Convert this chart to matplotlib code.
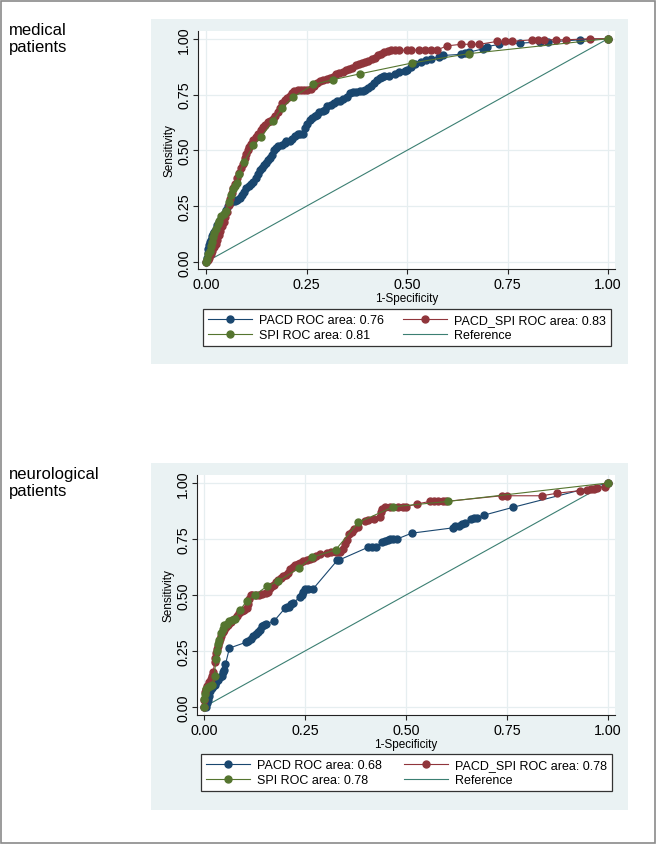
import matplotlib
matplotlib.use("Agg")
import matplotlib.pyplot as plt
from matplotlib.lines import Line2D
from matplotlib.patches import Rectangle

plt.rcParams["font.family"] = ["Liberation Sans", "DejaVu Sans"]

W, H = 657, 845

# ---- data: medical patients ----
med_pacd_fpr = [0, 0.002, 0.004, 0.006, 0.008, 0.01, 0.012, 0.015, 0.018, 0.02, 0.024, 0.028, 0.032,
                0.036, 0.04, 0.045, 0.05, 0.055, 0.06, 0.066, 0.072, 0.078, 0.084, 0.09, 0.095, 0.1,
                0.106, 0.112, 0.118, 0.124, 0.13, 0.135, 0.14, 0.145, 0.15, 0.155, 0.16, 0.165, 0.17,
                0.175, 0.18, 0.19, 0.196, 0.2, 0.208, 0.215, 0.222, 0.228, 0.235, 0.242, 0.247, 0.252,
                0.258, 0.264, 0.27, 0.276, 0.282, 0.29, 0.296, 0.302, 0.31, 0.318, 0.326, 0.334, 0.342,
                0.35, 0.358, 0.366, 0.374, 0.382, 0.39, 0.396, 0.402, 0.41, 0.418, 0.425, 0.432, 0.437,
                0.442, 0.455, 0.47, 0.48, 0.494, 0.5, 0.51, 0.52, 0.535, 0.548, 0.56, 0.58, 0.59, 0.635,
                0.645, 0.655, 0.69, 0.7, 0.73, 0.78, 0.83, 0.85, 0.93, 1.0]
med_pacd_tpr = [0, 0.02, 0.04, 0.06, 0.075, 0.09, 0.1, 0.115, 0.125, 0.135, 0.15, 0.165, 0.18,
                0.19, 0.2, 0.215, 0.235, 0.25, 0.265, 0.272, 0.275, 0.277, 0.285, 0.3, 0.315, 0.33,
                0.34, 0.35, 0.36, 0.375, 0.395, 0.41, 0.42, 0.435, 0.445, 0.455, 0.465, 0.48, 0.5,
                0.51, 0.52, 0.525, 0.535, 0.54, 0.54, 0.55, 0.565, 0.575, 0.575, 0.575, 0.6, 0.62,
                0.635, 0.645, 0.655, 0.66, 0.67, 0.675, 0.68, 0.7, 0.705, 0.71, 0.72, 0.72, 0.73,
                0.74, 0.755, 0.76, 0.76, 0.765, 0.765, 0.77, 0.78, 0.79, 0.8, 0.815, 0.825, 0.83,
                0.835, 0.835, 0.84, 0.85, 0.855, 0.86, 0.875, 0.885, 0.895, 0.905, 0.91, 0.92, 0.925, 0.93,
                0.935, 0.94, 0.955, 0.965, 0.975, 0.98, 0.985, 0.985, 0.995, 1.0]

med_combo_fpr = [0, 0.004, 0.008, 0.012, 0.016, 0.02, 0.024, 0.028, 0.032, 0.036, 0.04, 0.044, 0.048,
                 0.052, 0.056, 0.06, 0.064, 0.068, 0.072, 0.077, 0.082, 0.087, 0.092, 0.097, 0.1, 0.104,
                 0.108, 0.112, 0.118, 0.124, 0.13, 0.136, 0.142, 0.148, 0.154, 0.16, 0.166, 0.172, 0.178,
                 0.184, 0.19, 0.196, 0.202, 0.208, 0.214, 0.22, 0.228, 0.236, 0.244, 0.252, 0.26, 0.268,
                 0.276, 0.284, 0.292, 0.3, 0.308, 0.316, 0.324, 0.332, 0.34, 0.348, 0.356, 0.364, 0.372,
                 0.38, 0.388, 0.396, 0.404, 0.412, 0.42, 0.428, 0.436, 0.444, 0.452, 0.46, 0.47, 0.48,
                 0.5, 0.51, 0.53, 0.545, 0.56, 0.575, 0.6, 0.635, 0.66, 0.68, 0.725, 0.745, 0.76, 0.81,
                 0.825, 0.84, 0.87, 0.895, 0.955, 1.0]
med_combo_tpr = [0, 0.01, 0.02, 0.035, 0.05, 0.065, 0.08, 0.1, 0.12, 0.14, 0.16, 0.18, 0.2,
                 0.225, 0.255, 0.28, 0.31, 0.33, 0.35, 0.375, 0.4, 0.42, 0.44, 0.465, 0.485, 0.5,
                 0.515, 0.53, 0.545, 0.56, 0.575, 0.59, 0.605, 0.615, 0.625, 0.63, 0.64, 0.655, 0.67,
                 0.69, 0.71, 0.725, 0.735, 0.745, 0.755, 0.765, 0.77, 0.77, 0.77, 0.77, 0.775, 0.79,
                 0.8, 0.81, 0.815, 0.82, 0.825, 0.83, 0.84, 0.845, 0.85, 0.86, 0.865, 0.87, 0.88,
                 0.885, 0.89, 0.895, 0.9, 0.91, 0.915, 0.925, 0.93, 0.94, 0.945, 0.948, 0.948, 0.948,
                 0.948, 0.948, 0.95, 0.95, 0.95, 0.95, 0.968, 0.975, 0.975, 0.975, 0.988, 0.988, 0.988, 0.995,
                 0.995, 0.995, 0.995, 0.995, 1.0, 1.0]

med_spi_fpr = [0, 0.003, 0.006, 0.009, 0.012, 0.015, 0.018, 0.021, 0.025, 0.029, 0.033, 0.038,
               0.044, 0.05, 0.057, 0.062, 0.067, 0.072, 0.077, 0.082, 0.095, 0.118, 0.137, 0.166,
               0.189, 0.217, 0.267, 0.315, 0.384, 0.512, 0.654, 1.0]
med_spi_tpr = [0, 0.015, 0.035, 0.05, 0.07, 0.09, 0.11, 0.13, 0.15, 0.17, 0.185, 0.205,
               0.215, 0.23, 0.27, 0.3, 0.325, 0.34, 0.355, 0.395, 0.45, 0.522, 0.559, 0.63,
               0.69, 0.738, 0.795, 0.816, 0.843, 0.891, 0.933, 1.0]

# ---- data: neurological patients ----
neu_pacd_fpr = [0, 0.005, 0.008, 0.01, 0.013, 0.016, 0.019, 0.022, 0.026, 0.03, 0.035, 0.04, 0.044,
                0.047, 0.05, 0.053, 0.063, 0.104, 0.11, 0.116, 0.122, 0.128, 0.133, 0.138, 0.143,
                0.148, 0.153, 0.174, 0.2, 0.205, 0.21, 0.215, 0.22, 0.238, 0.242, 0.246, 0.25, 0.258,
                0.27, 0.33, 0.333, 0.406, 0.415, 0.425, 0.44, 0.448, 0.455, 0.46, 0.468, 0.478, 0.514,
                0.617, 0.622, 0.63, 0.638, 0.645, 0.66, 0.668, 0.676, 0.692, 0.766, 1.0]
neu_pacd_tpr = [0, 0.0, 0.02, 0.03, 0.05, 0.07, 0.085, 0.095, 0.1, 0.11, 0.12, 0.132, 0.14,
                0.155, 0.165, 0.19, 0.263, 0.289, 0.295, 0.304, 0.315, 0.325, 0.333, 0.345, 0.36,
                0.365, 0.37, 0.385, 0.44, 0.445, 0.445, 0.46, 0.465, 0.49, 0.5, 0.515, 0.525, 0.525,
                0.527, 0.655, 0.655, 0.713, 0.713, 0.713, 0.735, 0.74, 0.745, 0.75, 0.75, 0.75, 0.776,
                0.8, 0.81, 0.81, 0.815, 0.822, 0.84, 0.845, 0.845, 0.856, 0.892, 1.0]

neu_combo_fpr = [0, 0.0, 0.002, 0.005, 0.008, 0.012, 0.017, 0.02, 0.023, 0.026, 0.028, 0.03, 0.032,
                 0.034, 0.037, 0.04, 0.042, 0.046, 0.05, 0.055, 0.06, 0.063, 0.068, 0.075, 0.081,
                 0.087, 0.094, 0.1, 0.106, 0.11, 0.112, 0.116, 0.12, 0.128, 0.136, 0.144, 0.153,
                 0.158, 0.163, 0.168, 0.173, 0.178, 0.184, 0.19, 0.196, 0.202, 0.208, 0.214, 0.22,
                 0.226, 0.232, 0.238, 0.246, 0.254, 0.262, 0.27, 0.277, 0.287, 0.304, 0.315, 0.326,
                 0.337, 0.345, 0.35, 0.353, 0.358, 0.366, 0.372, 0.38, 0.398, 0.407, 0.42, 0.436,
                 0.438, 0.44, 0.448, 0.46, 0.48, 0.493, 0.5, 0.526, 0.56, 0.57, 0.58, 0.592, 0.6,
                 0.737, 0.749, 0.836, 0.873, 0.931, 0.947, 0.957, 0.965, 0.972, 0.993, 1.0]
neu_combo_tpr = [0, 0.03, 0.066, 0.08, 0.095, 0.11, 0.125, 0.14, 0.155, 0.2, 0.22, 0.24, 0.26,
                 0.274, 0.29, 0.305, 0.315, 0.333, 0.345, 0.355, 0.365, 0.375, 0.38, 0.393, 0.405,
                 0.42, 0.43, 0.435, 0.44, 0.46, 0.48, 0.5, 0.5, 0.5, 0.5, 0.505, 0.51,
                 0.515, 0.53, 0.54, 0.545, 0.557, 0.565, 0.575, 0.585, 0.59, 0.6, 0.615, 0.625,
                 0.635, 0.64, 0.645, 0.65, 0.655, 0.661, 0.665, 0.675, 0.683, 0.686, 0.69, 0.69,
                 0.69, 0.705, 0.728, 0.745, 0.772, 0.78, 0.795, 0.802, 0.83, 0.836, 0.838, 0.847,
                 0.87, 0.885, 0.891, 0.891, 0.894, 0.894, 0.894, 0.906, 0.918, 0.918, 0.918, 0.918, 0.918,
                 0.943, 0.943, 0.943, 0.954, 0.966, 0.97, 0.973, 0.975, 0.978, 0.981, 1.0]

neu_spi_fpr = [0, 0.0, 0.002, 0.005, 0.01, 0.015, 0.02, 0.026, 0.029, 0.031, 0.034, 0.038, 0.042,
               0.046, 0.05, 0.056, 0.063, 0.07, 0.077, 0.089, 0.106, 0.126, 0.155, 0.184, 0.235,
               0.267, 0.326, 0.382, 0.469, 0.605, 1.0]
neu_spi_tpr = [0, 0.036, 0.06, 0.082, 0.09, 0.092, 0.1, 0.14, 0.214, 0.25, 0.28, 0.3, 0.33,
               0.348, 0.365, 0.37, 0.385, 0.39, 0.394, 0.431, 0.475, 0.5, 0.538, 0.562, 0.62,
               0.668, 0.702, 0.824, 0.894, 0.918, 1.0]

med_auc = {"PACD": 0.76, "PACD_SPI": 0.83, "SPI": 0.81}
neu_auc = {"PACD": 0.68, "PACD_SPI": 0.78, "SPI": 0.78}
ticks = [0.0, 0.25, 0.5, 0.75, 1.0]

# ---- styles ----
BLUE = "#1a476f"
RED = "#90353b"
GREEN = "#55752f"
REF = "#3b7f72"
PANEL_BG = "#eaf2f3"
GRID = "#e6eef0"
MS = 5
LW = 0.8


def frac(x0, y0, x1, y1):
    """Pixel box (top-left origin) -> figure fraction [l, b, w, h]."""
    return [x0 / W, 1 - y1 / H, (x1 - x0) / W, (y1 - y0) / H]


def draw_panel(fig, bg_box, ax_box, lim_x, lim_y, leg_box, curves, auc, title, title_xy):
    l, b, w, h = frac(*bg_box)
    fig.patches.append(Rectangle((l, b), w, h, transform=fig.transFigure,
                                 facecolor=PANEL_BG, edgecolor="none", zorder=-5))
    ax = fig.add_axes(frac(*ax_box))
    ax.set_zorder(1)
    ax.set_facecolor("white")
    ax.set_xlim(*lim_x)
    ax.set_ylim(*lim_y)

    (pf, pt), (cf, ct), (sf, st) = curves
    ax.plot(pf, pt, color=BLUE, lw=LW, marker="o", ms=MS, zorder=3)
    ax.plot(cf, ct, color=RED, lw=LW, marker="o", ms=MS, zorder=4)
    ax.plot(sf, st, color=GREEN, lw=LW, marker="o", ms=MS, zorder=5)
    ax.plot([0, 1], [0, 1], color=REF, lw=LW, zorder=2)

    ax.set_xticks(ticks)
    ax.set_yticks(ticks)
    ax.set_xticklabels([f"{t:.2f}" for t in ticks])
    ax.set_yticklabels([f"{t:.2f}" for t in ticks], rotation=90, va="center")
    ax.grid(True, color=GRID, lw=0.9, zorder=0)
    ax.set_axisbelow(True)
    for side in ("top", "right"):
        ax.spines[side].set_visible(False)
    for side in ("left", "bottom"):
        ax.spines[side].set_color("#222222")
        ax.spines[side].set_linewidth(0.8)
    ax.tick_params(length=3.8, width=0.8, color="#222222", labelsize=10.3)
    ax.tick_params(axis="x", pad=2)
    ax.tick_params(axis="y", pad=1)
    ax.set_xlabel("1-Specificity", fontsize=8.5, labelpad=1)
    ax.set_ylabel("Sensitivity", fontsize=8.5, labelpad=1)

    handles = [
        Line2D([0], [0], color=BLUE, lw=LW, marker="o", ms=MS,
               label=f"PACD ROC area: {auc['PACD']:.2f}"),
        Line2D([0], [0], color=GREEN, lw=LW, marker="o", ms=MS,
               label=f"SPI ROC area: {auc['SPI']:.2f}"),
        Line2D([0], [0], color=RED, lw=LW, marker="o", ms=MS,
               label=f"PACD_SPI ROC area: {auc['PACD_SPI']:.2f}"),
        Line2D([0], [0], color=REF, lw=LW, label="Reference"),
    ]
    lb = frac(*leg_box)
    leg = fig.legend(handles=handles, loc="upper left", bbox_to_anchor=(lb[0], lb[1] + lb[3], lb[2], 0),
                     bbox_transform=fig.transFigure, mode="expand", ncol=2, fontsize=9,
                     numpoints=1, handlelength=3.5, handletextpad=0.55, labelspacing=0.25,
                     borderpad=0.4, borderaxespad=0, fancybox=False, framealpha=1)
    leg.get_frame().set_edgecolor("#333333")
    leg.get_frame().set_linewidth(0.9)
    leg.set_zorder(2)

    fig.text(title_xy[0] / W, 1 - title_xy[1] / H, title, fontsize=12, va="top", ha="left",
             linespacing=1.2)
    return ax


fig = plt.figure(figsize=(W / 100, H / 100), dpi=100)

draw_panel(fig, (151, 20, 628, 365), (198, 32, 615, 270),
           (-8 / 402, 409 / 402), (-7 / 223.3, 231 / 223.3),
           (203, 310, 611, 349),
           [(med_pacd_fpr, med_pacd_tpr), (med_combo_fpr, med_combo_tpr), (med_spi_fpr, med_spi_tpr)],
           med_auc, "medical\npatients", (9, 23))

draw_panel(fig, (151, 464, 628, 811), (197, 476, 615, 716),
           (-7 / 404, 411 / 404), (-8 / 224, 232 / 224),
           (201, 755, 612, 793),
           [(neu_pacd_fpr, neu_pacd_tpr), (neu_combo_fpr, neu_combo_tpr), (neu_spi_fpr, neu_spi_tpr)],
           neu_auc, "neurological\npatients", (9, 467))

# outer frame
fig.patches.append(Rectangle((1 / W, 1.5 / H), 654 / W, 841.5 / H, transform=fig.transFigure,
                             facecolor="none", edgecolor="#8a8a8a", lw=1.2, zorder=10))

fig.savefig("out.png", dpi=100)
